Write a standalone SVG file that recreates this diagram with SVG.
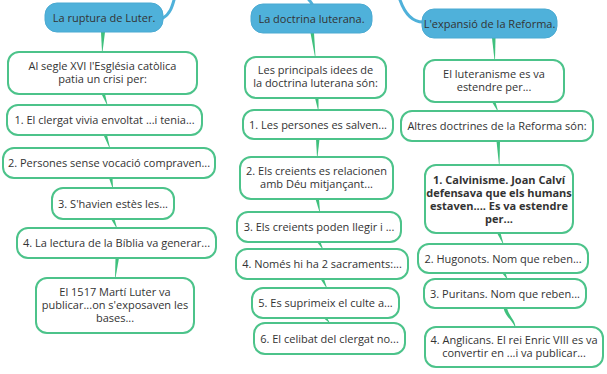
<svg xmlns="http://www.w3.org/2000/svg" width="607" height="374" viewBox="0 0 607 374">
<style>
.n{fill:#fff;stroke:#4cc38a;stroke-width:2}
.t{fill:#ffffff;stroke:none}
.b{fill:#4fb1da;stroke:#4aaad2;stroke-width:1}
text{font-family:"Open Sans","Noto Sans","Liberation Sans",sans-serif;font-size:11px;fill:#333;text-anchor:middle}
.bold{font-weight:bold}
.c{fill:#3fc07d;stroke:none}
.bl{fill:none;stroke:#4fb1da;stroke-width:3;stroke-linecap:round}
</style>
<rect width="607" height="374" fill="#fff"/>
<g id="connectors">
<path class="bl" d="M163,18 C170,14 172,7 174,0"/>
<path class="bl" d="M312,4 C311,2 310,1 309,0"/>
<path class="bl" d="M400,0 C405,14 412,22 423,22"/>
<path class="c" d="M101,32 L105,32 L102.5,52 L102,52 Z"/>
<path class="c" d="M101.5,94 L105,94 L107.5,105 L107,105 Z"/>
<path class="c" d="M103.5,135 L107,135 L110,148 L109.5,148 Z"/>
<path class="c" d="M109,178 L112.5,178 L113,188 L112.5,188 Z"/>
<path class="c" d="M111,219 L114.5,219 L117,228 L116.5,228 Z"/>
<path class="c" d="M115.5,258 L119,258 L115.5,278 L115,278 Z"/>
<path class="c" d="M310.5,33 L314,33 L315.5,57 L315,57 Z"/>
<path class="c" d="M315,98 L318.5,98 L318.5,110 L318,110 Z"/>
<path class="c" d="M316,139 L319.5,139 L317.5,157 L317,157 Z"/>
<path class="c" d="M315.5,199 L319,199 L320,212 L319.5,212 Z"/>
<path class="c" d="M317,242 L320.5,242 L323,249 L322.5,249 Z"/>
<path class="c" d="M320.5,279 L324,279 L327,288 L326.5,288 Z"/>
<path class="c" d="M323.5,318 L327,318 L330,323 L329.5,323 Z"/>
<path class="c" d="M492,38 L495.5,38 L495,60 L494.5,60 Z"/>
<path class="c" d="M492,102 L495.5,102 L498,111 L497.5,111 Z"/>
<path class="c" d="M496.5,141 L500,141 L499.5,165 L499,165 Z"/>
<path class="c" d="M497,233 L500.5,233 L503.5,244 L503,244 Z"/>
<path class="c" d="M502,273 L505.5,273 L507.5,279 L507,279 Z"/>
<path class="c" d="M503.5,308 L507,308 C509,316 515,320 515.5,327 L515,327 C512,320 505,316 503.5,308 Z"/>
</g>
<g id="L0"><rect class="b" x="45" y="3" width="118" height="29" rx="12"/><text x="104" y="21.5">La ruptura de Luter.</text></g>
<g id="L1"><rect class="n" x="8" y="52" width="189" height="42" rx="11"/><text x="102.5" y="70">Al segle XVI l'Església catòlica</text><text x="102.5" y="83">patia un crisi per:</text></g>
<g id="L2"><rect class="n" x="7" y="105" width="195" height="30" rx="11"/><text x="104.5" y="124">1. El clergat vivia envoltat ...i tenia...</text></g>
<g id="L3"><rect class="n" x="3" y="148" width="212" height="30" rx="11"/><text x="109" y="167">2. Persones sense vocació compraven...</text></g>
<g id="L4"><rect class="n" x="52" y="188" width="122" height="31" rx="11"/><text x="113" y="207.5">3. S'havien estès les...</text></g>
<g id="L5"><rect class="n" x="17" y="228" width="199" height="30" rx="11"/><text x="116.5" y="247">4. La lectura de la Bíblia va generar...</text></g>
<g id="L6"><rect class="n" x="36" y="278" width="158" height="55" rx="11"/><text x="115" y="296">El 1517 Martí Luter va</text><text x="115" y="309">publicar...on s'exposaven les</text><text x="115" y="322">bases...</text></g>
<g id="M0"><rect class="b" x="251" y="4" width="121" height="29" rx="12"/><text x="311.5" y="22.5">La doctrina luterana.</text></g>
<g id="M1"><rect class="n" x="245" y="57" width="141" height="41" rx="11"/><text x="315.5" y="74">Les principals idees de</text><text x="315.5" y="86.5">la doctrina luterana són:</text></g>
<g id="M2"><rect class="n" x="243" y="110" width="150" height="29" rx="11"/><text x="318" y="128.5">1. Les persones es salven...</text></g>
<g id="M3"><rect class="n" x="240" y="157" width="153" height="42" rx="11"/><text x="316.5" y="175">2. Els creients es relacionen</text><text x="316.5" y="187.5">amb Déu mitjançant...</text></g>
<g id="M4"><rect class="n" x="237" y="212" width="164" height="30" rx="11"/><text x="319" y="231">3. Els creients poden llegir i ...</text></g>
<g id="M5"><rect class="n" x="236" y="249" width="172" height="30" rx="11"/><text x="322" y="268">4. Només hi ha 2 sacraments:...</text></g>
<g id="M6"><rect class="n" x="252" y="288" width="147" height="30" rx="11"/><text x="325.5" y="307">5. Es suprimeix el culte a...</text></g>
<g id="M7"><rect class="n" x="254" y="323" width="151" height="31" rx="11"/><text x="329.5" y="342.5">6. El celibat del clergat no...</text></g>
<g id="R0"><rect class="b" x="422" y="9" width="135" height="29" rx="12"/><text x="489.5" y="27.5">L'expansió de la Reforma.</text></g>
<g id="R1"><rect class="n" x="424" y="60" width="140" height="42" rx="11"/><text x="494" y="77.5">El luteranisme es va</text><text x="494" y="90.5">estendre per...</text></g>
<g id="R2"><rect class="n" x="401" y="111" width="192" height="30" rx="11"/><text x="497" y="130">Altres doctrines de la Reforma són:</text></g>
<g id="R3"><rect class="n" x="425" y="165" width="148" height="68" rx="11"/><text class="bold" x="499" y="184">1. Calvinisme. Joan Calví</text><text class="bold" x="499" y="197">defensava que els humans</text><text class="bold" x="499" y="210">estaven.... Es va estendre</text><text class="bold" x="499" y="223">per...</text></g>
<g id="R4"><rect class="n" x="418" y="244" width="170" height="29" rx="11"/><text x="503" y="262.5">2. Hugonots. Nom que reben...</text></g>
<g id="R5"><rect class="n" x="424" y="279" width="162" height="29" rx="11"/><text x="505" y="297.5">3. Puritans. Nom que reben...</text></g>
<g id="R6"><rect class="n" x="425" y="327" width="178" height="40" rx="11"/><text x="514" y="344">4. Anglicans. El rei Enric VIII es va</text><text x="514" y="357">convertir en ...i va publicar...</text></g>
</svg>
